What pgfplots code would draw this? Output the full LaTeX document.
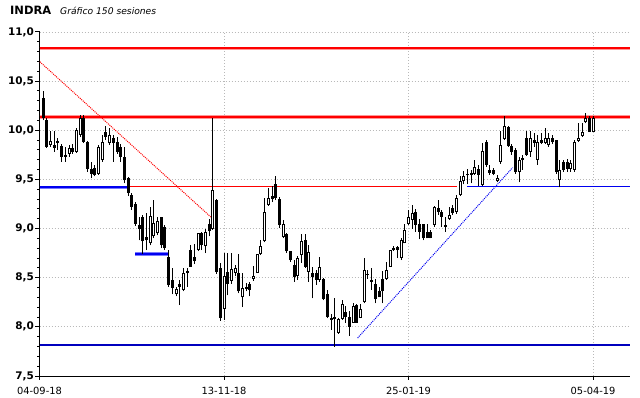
\documentclass[border=0pt]{standalone}
\usepackage{fontspec}
\setmainfont{DejaVu Sans}
\usepackage{pgfplots}
\usepackage{pgfplotstable}
\pgfplotsset{compat=1.18}
\definecolor{gridc}{RGB}{185,185,185}
\definecolor{haloR}{RGB}{255,150,150}
\definecolor{coreR}{RGB}{255,0,0}
\definecolor{haloB}{RGB}{120,120,255}
\definecolor{coreB}{RGB}{0,0,240}
\definecolor{navyl}{RGB}{0,0,190}
\pgfplotstableread{
i o h l c
1 10.33 10.40 10.10 10.12
2 10.10 10.12 9.82 9.83
3 9.85 9.99 9.83 9.89
4 9.85 9.99 9.78 9.82
5 9.87 9.92 9.80 9.89
6 9.84 9.86 9.68 9.73
7 9.75 9.83 9.68 9.73
8 9.76 9.85 9.73 9.82
9 9.82 9.86 9.76 9.78
10 9.78 10.02 9.77 10.00
11 9.95 10.16 9.93 10.12
12 10.12 10.16 9.87 9.88
13 9.88 9.89 9.58 9.61
14 9.61 9.68 9.51 9.56
15 9.62 9.65 9.53 9.55
16 9.56 9.85 9.55 9.83
17 9.70 9.95 9.68 9.88
18 9.98 10.04 9.90 9.93
19 9.87 10.02 9.85 9.95
20 9.92 9.95 9.68 9.87
21 9.88 9.93 9.76 9.78
22 9.83 9.86 9.68 9.73
23 9.73 9.83 9.46 9.49
24 9.51 9.52 9.33 9.36
25 9.34 9.36 9.19 9.22
26 9.25 9.27 9.03 9.05
27 9.04 9.12 8.88 9.00
28 9.12 9.14 8.74 8.87
29 8.91 9.16 8.78 8.88
30 8.85 9.22 8.83 9.13
31 8.92 9.29 8.90 9.06
32 8.95 9.12 8.93 9.08
33 9.12 9.12 8.80 8.83
34 9.02 9.04 8.78 8.80
35 8.71 8.78 8.41 8.43
36 8.48 8.60 8.33 8.40
37 8.33 8.41 8.31 8.39
38 8.44 8.48 8.22 8.41
39 8.38 8.60 8.36 8.55
40 8.57 8.60 8.41 8.55
41 8.78 8.83 8.61 8.61
42 8.71 8.84 8.64 8.67
43 8.78 8.96 8.77 8.96
44 8.95 8.97 8.78 8.83
45 8.82 9.00 8.75 8.97
46 9.05 9.10 8.92 8.98
47 9.00 10.13 8.99 9.39
48 9.29 9.30 8.54 8.56
49 8.60 8.65 8.06 8.09
50 8.18 8.75 8.07 8.52
51 8.56 8.75 8.32 8.44
52 8.47 8.75 8.44 8.59
53 8.55 8.63 8.52 8.60
54 8.55 8.74 8.34 8.36
55 8.30 8.55 8.20 8.40
56 8.41 8.45 8.36 8.39
57 8.44 8.46 8.31 8.38
58 8.49 8.62 8.47 8.52
59 8.55 8.74 8.55 8.74
60 8.74 8.88 8.73 8.82
61 8.87 9.31 8.86 9.17
62 9.24 9.41 9.23 9.31
63 9.33 9.43 9.27 9.30
64 9.45 9.53 9.29 9.31
65 9.30 9.32 9.01 9.04
66 8.91 9.09 8.90 9.05
67 8.94 8.95 8.75 8.77
68 8.77 8.77 8.66 8.68
69 8.63 8.68 8.46 8.51
70 8.52 8.72 8.48 8.70
71 8.73 8.94 8.65 8.87
72 8.88 8.94 8.60 8.61
73 8.56 8.83 8.46 8.76
74 8.55 8.61 8.29 8.51
75 8.55 8.58 8.43 8.48
76 8.48 8.71 8.46 8.61
77 8.49 8.50 8.27 8.28
78 8.33 8.38 8.09 8.10
79 8.09 8.13 7.97 8.07
80 8.10 8.29 7.80 8.08
81 7.94 8.09 7.93 8.08
82 8.08 8.27 8.07 8.23
83 8.15 8.21 8.04 8.10
84 8.10 8.16 7.91 8.00
85 8.04 8.24 8.04 8.21
86 8.22 8.23 8.04 8.04
87 8.09 8.23 8.09 8.18
88 8.25 8.70 8.24 8.58
89 8.54 8.58 8.49 8.53
90 8.48 8.60 8.38 8.46
91 8.44 8.49 8.24 8.28
92 8.36 8.41 8.30 8.30
93 8.49 8.57 8.24 8.36
94 8.49 8.66 8.48 8.58
95 8.61 8.78 8.61 8.78
96 8.80 8.82 8.77 8.78
97 8.81 8.82 8.70 8.78
98 8.70 8.90 8.68 8.88
99 8.85 9.05 8.85 8.99
100 9.05 9.19 9.04 9.12
101 9.09 9.24 9.00 9.16
102 9.17 9.20 8.97 9.04
103 9.05 9.10 8.89 8.97
104 9.05 9.05 8.88 8.90
105 8.97 9.05 8.90 8.90
106 8.97 8.99 8.90 8.90
107 9.04 9.23 9.02 9.22
108 9.21 9.29 9.14 9.17
109 9.17 9.19 9.02 9.12
110 9.04 9.12 8.97 9.02
111 9.10 9.22 9.09 9.14
112 9.21 9.24 9.14 9.16
113 9.17 9.34 9.15 9.31
114 9.34 9.53 9.33 9.48
115 9.48 9.59 9.45 9.53
116 9.55 9.61 9.45 9.54
117 9.56 9.60 9.46 9.55
118 9.56 9.70 9.55 9.63
119 9.61 9.65 9.43 9.55
120 9.44 9.87 9.43 9.79
121 9.88 9.90 9.63 9.65
122 9.60 9.65 9.55 9.57
123 9.60 9.62 9.54 9.56
124 9.48 9.54 9.47 9.51
125 9.68 9.99 9.66 9.85
126 9.91 10.15 9.90 10.04
127 10.03 10.04 9.83 9.84
128 9.84 9.86 9.75 9.78
129 9.80 9.82 9.56 9.58
130 9.58 9.73 9.47 9.70
131 9.70 9.75 9.60 9.72
132 9.92 9.99 9.74 9.75
133 9.78 9.99 9.73 9.92
134 9.90 9.97 9.83 9.87
135 9.70 9.95 9.65 9.88
136 9.90 9.97 9.86 9.87
137 9.87 10.02 9.86 9.92
138 9.85 9.97 9.83 9.92
139 9.92 9.95 9.86 9.88
140 9.90 9.90 9.56 9.58
141 9.49 9.70 9.42 9.60
142 9.68 9.70 9.58 9.60
143 9.68 9.71 9.58 9.61
144 9.61 9.70 9.58 9.67
145 9.60 9.90 9.58 9.88
146 9.89 10.07 9.88 9.92
147 9.94 10.07 9.93 9.98
148 10.08 10.18 10.07 10.12
149 10.12 10.15 9.98 9.98
150 9.98 10.15 9.98 10.12
}\candles
\begin{document}
\begin{tikzpicture}
\useasboundingbox (0,0) rectangle (640bp,398bp);
\node[anchor=base west, inner sep=0, font=\bfseries\fontsize{11.5}{13}\selectfont] at (10bp,383bp) {INDRA};
\node[anchor=base west, inner sep=0, font=\itshape\fontsize{9.2}{10}\selectfont] at (60bp,383bp) {Gráfico 150 sesiones};
\begin{axis}[
  at={(39.5bp,22bp)}, anchor=south west,
  scale only axis, width=590.5bp, height=344bp,
  xmin=0, xmax=160, ymin=7.5, ymax=11,
  axis x line*=bottom, axis y line*=left,
  axis line style={black, line width=1bp, -},
  xtick={0,50,100,150},
  xticklabels={04-09-18,13-11-18,25-01-19,05-04-19},
  ytick={7.5,8,8.5,9,9.5,10,10.5,11},
  minor y tick num=4,
  tick align=outside,
  major tick length=4bp, minor tick length=2bp,
  tick style={black, line width=1bp},
  /pgf/number format/assume math mode=true,
  yticklabel style={font=\bfseries\fontsize{10.5}{12}\selectfont, xshift=2bp,
    /pgf/number format/fixed, /pgf/number format/fixed zerofill,
    /pgf/number format/precision=1, /pgf/number format/use comma},
  xticklabel style={font=\fontsize{9.9}{11}\selectfont, yshift=-4bp},
  grid=major,
  major grid style={gridc, dash pattern=on 1bp off 2bp, line width=0.8bp},
]
% horizontal and trend lines
\addplot[haloR, line width=3.6bp] coordinates {(0,10.834) (160,10.834)};
\addplot[coreR, line width=1.8bp] coordinates {(0,10.834) (160,10.834)};
\addplot[haloR, line width=3.6bp] coordinates {(0,10.135) (160,10.135)};
\addplot[coreR, line width=1.8bp] coordinates {(0,10.135) (160,10.135)};
\addplot[coreR, line width=1.2bp] coordinates {(24.3,9.43) (113.1,9.43)};
\addplot[coreB, line width=1.2bp] coordinates {(115.9,9.43) (160,9.43)};
\addplot[haloB, line width=3.4bp] coordinates {(0,9.42) (24.2,9.42)};
\addplot[coreB, line width=1.8bp] coordinates {(0,9.42) (24.2,9.42)};
\addplot[haloB, line width=3.4bp] coordinates {(25.9,8.74) (34.8,8.74)};
\addplot[coreB, line width=1.8bp] coordinates {(25.9,8.74) (34.8,8.74)};
\addplot[navyl, line width=1.2bp] coordinates {(0,7.816) (160,7.816)};
\addplot[coreR, line width=1bp, dash pattern=on 1bp off 1bp] coordinates {(0.1,10.697) (46.7,9.108)};
\addplot[coreB, line width=1bp, dash pattern=on 1bp off 1bp] coordinates {(86.2,7.887) (128.2,9.62)};
% wicks
\addplot[draw=none, mark=none, error bars/.cd, y dir=plus, y explicit, error mark=none,
  error bar style={draw=black, solid, line width=1bp}]
  table[x=i, y=l, y error plus expr={\thisrow{h}-\thisrow{l}}] {\candles};
% bodies
\addplot[draw=none, mark=none, error bars/.cd, y dir=plus, y explicit, error mark=none,
  error bar style={draw=black, solid, line width=3bp}]
  table[x=i, y expr={min(\thisrow{o},\thisrow{c})}, y error plus expr={max(abs(\thisrow{c}-\thisrow{o}),0.012)}] {\candles};
% hollow interiors of rising candles
\addplot[draw=none, mark=none, restrict expr to domain={\thisrow{c}-\thisrow{o}}{0.025:10},
  error bars/.cd, y dir=plus, y explicit, error mark=none,
  error bar style={draw=white, solid, line width=1bp}]
  table[x=i, y expr={\thisrow{o}+0.0102}, y error plus expr={\thisrow{c}-\thisrow{o}-0.0204}] {\candles};
\end{axis}
\end{tikzpicture}
\end{document}
